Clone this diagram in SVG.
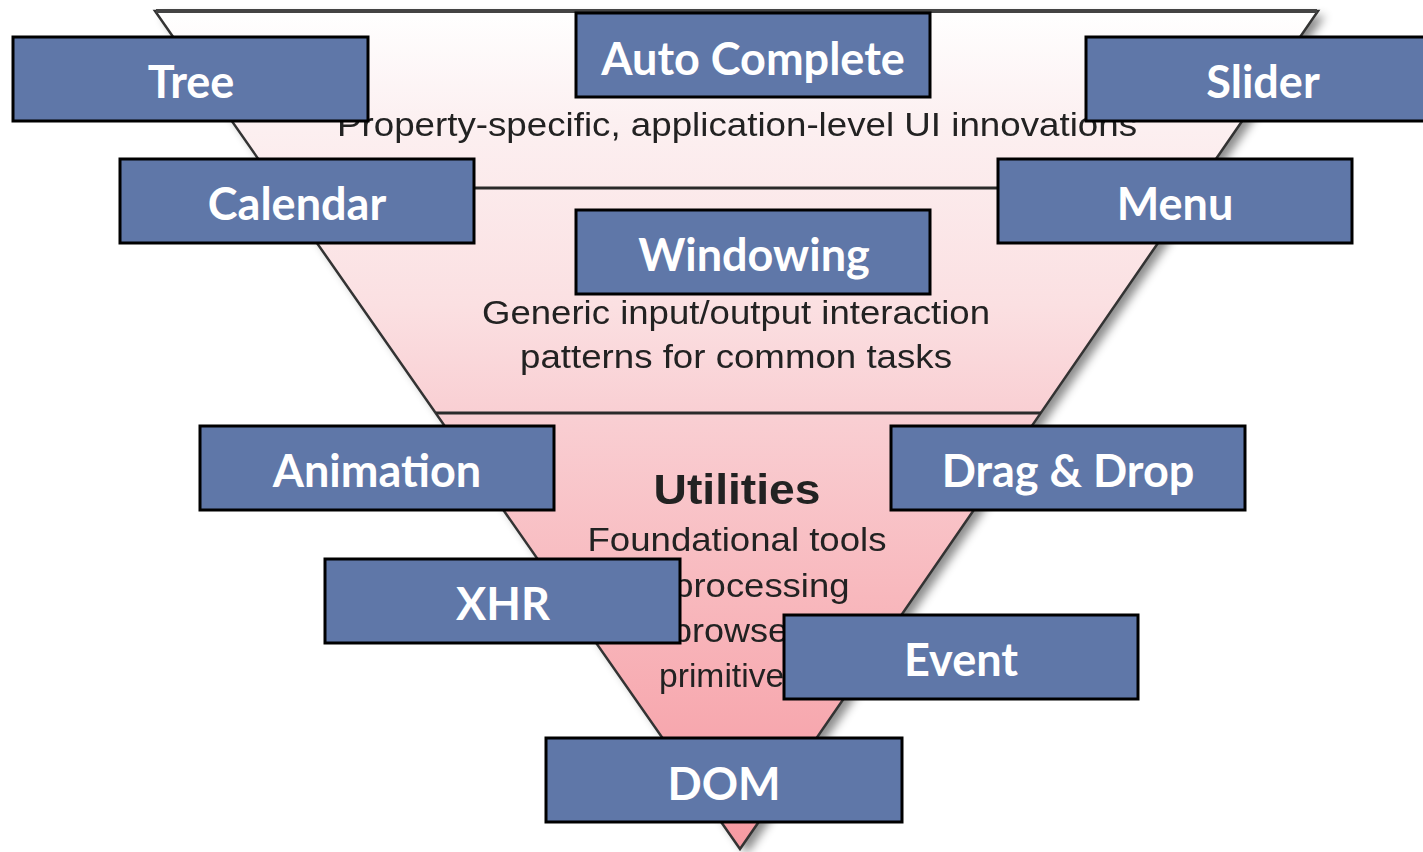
<svg xmlns="http://www.w3.org/2000/svg" width="1423" height="852" viewBox="0 0 1423 852">
<defs>
<linearGradient id="tri" gradientUnits="userSpaceOnUse" x1="0" y1="11" x2="0" y2="849">
<stop offset="0" stop-color="#ffffff"/>
<stop offset="0.13" stop-color="#fcf0f1"/>
<stop offset="0.35" stop-color="#fbe0e2"/>
<stop offset="0.48" stop-color="#f9cfd3"/>
<stop offset="0.7" stop-color="#f8b8bd"/>
<stop offset="1" stop-color="#f69aa2"/>
</linearGradient>
<filter id="shadow" x="-10%" y="-10%" width="130%" height="130%">
<feDropShadow dx="7" dy="5" stdDeviation="5" flood-color="#000" flood-opacity="0.45"/>
</filter>
<filter id="soft" x="-5%" y="-20%" width="110%" height="140%">
<feGaussianBlur stdDeviation="0.7"/>
</filter>
</defs>
<style>
.box{fill:#5f77a8;stroke:#000;stroke-width:3}
.bt{font-family:Lato,"Open Sans","Liberation Sans",sans-serif;font-weight:bold;font-size:45px;fill:#fff;text-anchor:middle}
.lt{font-family:"Liberation Sans",Arial,sans-serif;font-size:34px;fill:#222;text-anchor:middle}
.div{stroke:#2a2a2a;stroke-width:3}
</style>
<rect width="1423" height="852" fill="#fff"/>
<g id="pyramid">
<polygon points="155,11 1318,11 740,849" fill="url(#tri)" filter="url(#shadow)"/>
<polygon points="155,11 1318,11 740,849" fill="none" stroke="#333" stroke-width="2.5" stroke-linejoin="miter"/>
<line x1="156" y1="11" x2="1317" y2="11" stroke="#444" stroke-width="4"/>
<line class="div" x1="279" y1="188" x2="1196" y2="188"/>
<line class="div" x1="436" y1="413" x2="1041" y2="413"/>
<g filter="url(#soft)">
<text class="lt" x="737" y="136" textLength="800" lengthAdjust="spacingAndGlyphs">Property-specific, application-level UI innovations</text>
<text class="lt" x="736" y="324" textLength="508" lengthAdjust="spacingAndGlyphs">Generic input/output interaction</text>
<text class="lt" x="736" y="368" textLength="432" lengthAdjust="spacingAndGlyphs">patterns for common tasks</text>
<text class="lt" x="737" y="504" style="font-weight:bold;font-size:42px" textLength="167" lengthAdjust="spacingAndGlyphs">Utilities</text>
<text class="lt" x="737" y="551" textLength="299" lengthAdjust="spacingAndGlyphs">Foundational tools</text>
<text class="lt" x="735" y="597" textLength="229" lengthAdjust="spacingAndGlyphs">for processing</text>
<text class="lt" x="736" y="642" textLength="128" lengthAdjust="spacingAndGlyphs">browser</text>
<text class="lt" x="730" y="687" textLength="142" lengthAdjust="spacingAndGlyphs">primitives</text>
</g>
</g>
<g id="connectors"></g>
<g id="node-tree"><rect class="box" x="13" y="37" width="355" height="84"/><text class="bt" x="191" y="98">Tree</text></g>
<g id="node-autocomplete"><rect class="box" x="576" y="13" width="354" height="84"/><text class="bt" x="753" y="75">Auto Complete</text></g>
<g id="node-slider"><rect class="box" x="1086" y="37" width="360" height="84"/><text class="bt" x="1263" y="98">Slider</text></g>
<g id="node-calendar"><rect class="box" x="120" y="159" width="354" height="84"/><text class="bt" x="297" y="220">Calendar</text></g>
<g id="node-menu"><rect class="box" x="998" y="159" width="354" height="84"/><text class="bt" x="1175" y="220">Menu</text></g>
<g id="node-windowing"><rect class="box" x="576" y="210" width="354" height="84"/><text class="bt" x="754" y="271">Windowing</text></g>
<g id="node-animation"><rect class="box" x="200" y="426" width="354" height="84"/><text class="bt" x="377" y="487">Animation</text></g>
<g id="node-dragdrop"><rect class="box" x="891" y="426" width="354" height="84"/><text class="bt" x="1068" y="487">Drag &amp; Drop</text></g>
<g id="node-xhr"><rect class="box" x="325" y="559" width="355" height="84"/><text class="bt" x="503" y="620">XHR</text></g>
<g id="node-event"><rect class="box" x="784" y="615" width="354" height="84"/><text class="bt" x="961" y="676">Event</text></g>
<g id="node-dom"><rect class="box" x="546" y="738" width="356" height="84"/><text class="bt" x="724" y="800">DOM</text></g>
</svg>
